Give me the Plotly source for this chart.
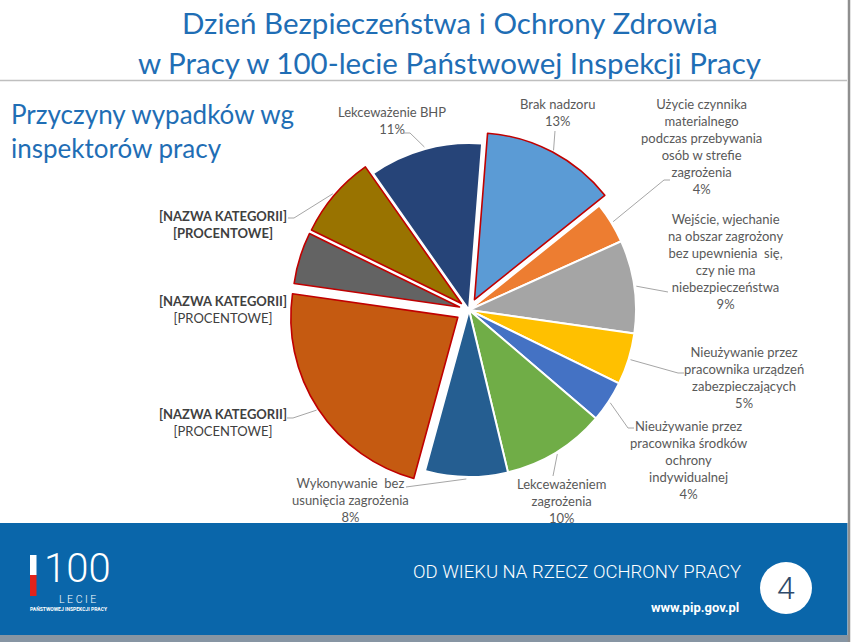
import math
import plotly.graph_objects as go

W, H = 852, 642

# ---------------- data ----------------
categories = [
    "Brak nadzoru",
    "Użycie czynnika materialnego podczas przebywania osób w strefie zagrożenia",
    "Wejście, wjechanie na obszar zagrożony bez upewnienia się, czy nie ma niebezpieczeństwa",
    "Nieużywanie przez pracownika urządzeń zabezpieczających",
    "Nieużywanie przez pracownika środków ochrony indywidualnej",
    "Lekceważeniem zagrożenia",
    "Wykonywanie bez usunięcia zagrożenia",
    "[NAZWA KATEGORII] (1)",
    "[NAZWA KATEGORII] (2)",
    "[NAZWA KATEGORII] (3)",
    "Lekceważenie BHP",
]
values = [13, 4, 9, 5, 4, 10, 8, 23, 5, 8, 11]
label_texts = [
    "Brak nadzoru<br>13%",
    "Użycie czynnika<br>materialnego<br>podczas przebywania<br>osób w strefie<br>zagrożenia<br>4%",
    "Wejście, wjechanie<br>na obszar zagrożony<br>bez upewnienia  się,<br>czy nie ma<br>niebezpieczeństwa<br>9%",
    "Nieużywanie przez<br>pracownika urządzeń<br>zabezpieczających<br>5%",
    "Nieużywanie przez<br>pracownika środków<br>ochrony<br>indywidualnej<br>4%",
    "Lekceważeniem<br>zagrożenia<br>10%",
    "Wykonywanie  bez<br>usunięcia zagrożenia<br>8%",
    "<b>[NAZWA KATEGORII]</b><br>[PROCENTOWE]",
    "<b>[NAZWA KATEGORII]</b><br>[PROCENTOWE]",
    "<b>[NAZWA KATEGORII]</b><br><b>[PROCENTOWE]</b>",
    "Lekceważenie BHP<br>11%",
]

# ---------------- style / layout ----------------
colors = ["#5B9BD5", "#ED7D31", "#A5A5A5", "#FFC000", "#4472C4", "#70AD47",
          "#255E91", "#C55A11", "#636363", "#997300", "#264478"]
pulls = [0.07, 0, 0, 0, 0, 0, 0, 0.08, 0.06, 0.06, 0]
line_cols = ["#C00000" if p > 0 else "#FFFFFF" for p in pulls]
line_wid = [1.6 if p > 0 else 2.0 for p in pulls]

CX, CY, R = 469, 310, 167       # pie centre / radius in pixels
ROT = 4.5                        # start angle (deg, clockwise from 12 o'clock)

# label block centres (px)
label_pos = [(557, 112), (701, 147), (725, 262), (744, 378), (688, 460),
             (561, 501), (350, 500), (223, 422), (223, 309), (223, 224), (392, 121)]
# leader-line label-side points (px)
leader_pts = [
    [(555, 131)],
    [(664, 180), (670, 180)],
    [(668, 292)],
    [(678, 373), (684, 373)],
    [(628, 428), (634, 428)],
    [(553, 476)],
    [(406, 487)],
    [(293, 418), (287, 418)],
    None,
    [(294, 218), (288, 218)],
    [(410, 133), (404, 133)],
]


def px(x):
    return x / W


def py(y):
    return 1 - y / H


maxpull = max(pulls)
half = R * (1 + maxpull)

fig = go.Figure()
fig.add_trace(go.Pie(
    labels=categories, values=values, sort=False, direction="clockwise",
    rotation=ROT, pull=pulls, textinfo="none", hoverinfo="label+percent",
    marker=dict(colors=colors, line=dict(color=line_cols, width=line_wid)),
    domain=dict(x=[px(CX - half), px(CX + half)], y=[py(CY + half), py(CY - half)]),
    showlegend=False,
))

shapes = []
annotations = []
LBL = "#595959"
LFONT = "Lato"

# leader lines computed from slice geometry
tot = sum(values)
for i, pts in enumerate(leader_pts):
    if not pts:
        continue
    cum = sum(values[:i])
    mid = math.radians(ROT + (cum + values[i] / 2) / tot * 360)
    r = R * (1 + pulls[i]) + 2
    sx, sy = CX + r * math.sin(mid), CY - r * math.cos(mid)
    path = "M %f,%f" % (px(sx), py(sy))
    for (x, y) in pts:
        path += " L %f,%f" % (px(x), py(y))
    shapes.append(dict(type="path", path=path, xref="paper", yref="paper",
                       line=dict(color="#A6A6A6", width=1)))

for i, t in enumerate(label_texts):
    x, y = label_pos[i]
    col = "#404040" if "NAZWA" in t else LBL
    annotations.append(dict(text=t, x=px(x), y=py(y), xref="paper", yref="paper",
                            xanchor="center", yanchor="middle", showarrow=False,
                            align="center", font=dict(family=LFONT, size=13, color=col)))

# ---------------- slide decoration ----------------
TITLE_COL = "#1F6EB5"
annotations += [
    dict(text="Dzień Bezpieczeństwa i Ochrony Zdrowia", x=px(450), y=py(22),
         xref="paper", yref="paper", xanchor="center", yanchor="middle", showarrow=False,
         font=dict(family=LFONT, size=29.5, color=TITLE_COL)),
    dict(text="w Pracy w 100-lecie Państwowej Inspekcji Pracy", x=px(449), y=py(62),
         xref="paper", yref="paper", xanchor="center", yanchor="middle", showarrow=False,
         font=dict(family=LFONT, size=29.5, color=TITLE_COL)),
    dict(text="Przyczyny wypadków wg<br>inspektorów pracy", x=px(9), y=py(131),
         xref="paper", yref="paper", xanchor="left", yanchor="middle", showarrow=False,
         align="left", font=dict(family=LFONT, size=26, color=TITLE_COL)),
    dict(text="OD WIEKU NA RZECZ OCHRONY PRACY", x=px(577), y=py(572),
         xref="paper", yref="paper", xanchor="center", yanchor="middle", showarrow=False,
         font=dict(family="Roboto", size=18.5, color="white", weight=300)),
    dict(text="<b>www.pip.gov.pl</b>", x=px(741), y=py(607),
         xref="paper", yref="paper", xanchor="right", yanchor="middle", showarrow=False,
         font=dict(family="Roboto", size=13, color="white")),
    dict(text="4", x=px(786), y=py(588),
         xref="paper", yref="paper", xanchor="center", yanchor="middle", showarrow=False,
         font=dict(family="Roboto", size=32, color="#2E4A6B", weight=300)),
    dict(text="100", x=px(77), y=py(568),
         xref="paper", yref="paper", xanchor="center", yanchor="middle", showarrow=False,
         font=dict(family="Roboto", size=40, color="white", weight=300)),
    dict(text="L E C I E", x=px(77), y=py(599.5),
         xref="paper", yref="paper", xanchor="center", yanchor="middle", showarrow=False,
         font=dict(family="Roboto", size=10.5, color="white", weight=300)),
    dict(text="<b>PAŃSTWOWEJ INSPEKCJI PRACY</b>", x=px(69), y=py(609),
         xref="paper", yref="paper", xanchor="center", yanchor="middle", showarrow=False,
         font=dict(family="Roboto", size=5, color="white")),
]

FOOT = "#0A66AA"
shapes += [
    dict(type="line", xref="paper", yref="paper", x0=px(849), x1=px(849), y0=py(642), y1=py(0),
         line=dict(color="#8F8F8F", width=2.5)),
    dict(type="line", xref="paper", yref="paper", x0=px(0), x1=px(847), y0=py(80.5), y1=py(80.5),
         line=dict(color="#BFBFBF", width=1.5)),
    dict(type="rect", xref="paper", yref="paper", x0=px(0), x1=px(847.5), y0=py(635), y1=py(523),
         fillcolor=FOOT, line=dict(width=0), layer="below"),
    dict(type="rect", xref="paper", yref="paper", x0=px(0), x1=px(850), y0=py(642), y1=py(635),
         fillcolor="#8795A3", line=dict(width=0), layer="below"),
    dict(type="circle", xref="paper", yref="paper", x0=px(760), x1=px(812), y0=py(614), y1=py(562),
         fillcolor="white", line=dict(width=0)),
    dict(type="rect", xref="paper", yref="paper", x0=px(30), x1=px(36.5), y0=py(575), y1=py(555),
         fillcolor="white", line=dict(width=0)),
    dict(type="rect", xref="paper", yref="paper", x0=px(30), x1=px(36.5), y0=py(596), y1=py(575),
         fillcolor="#E2231A", line=dict(width=0)),
]

fig.update_layout(
    width=W, height=H, autosize=False,
    margin=dict(l=0, r=0, t=0, b=0, pad=0),
    paper_bgcolor="white", plot_bgcolor="white",
    showlegend=False,
    shapes=shapes, annotations=annotations,
)

fig.write_html("out.html")
